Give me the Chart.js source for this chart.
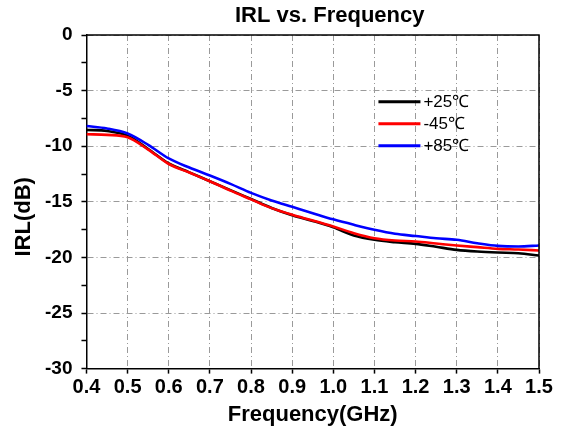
<!DOCTYPE html>
<html>
<head>
<meta charset="utf-8">
<script src="https://cdn.jsdelivr.net/npm/chart.js@4/dist/chart.umd.min.js"></script>
<style>
  html, body { margin: 0; padding: 0; background: #fff; }
  #wrap { width: 561px; height: 438px; }
</style>
</head>
<body>
<div id="wrap"><canvas id="irl"></canvas></div>
<script>
// frequency points (GHz)
var freq = [0.40, 0.45, 0.50, 0.55, 0.60, 0.65, 0.70, 0.75, 0.80, 0.85, 0.90, 0.95,
            1.00, 1.05, 1.10, 1.15, 1.20, 1.25, 1.30, 1.35, 1.40, 1.45, 1.50];

// IRL in dB
var irl25 = [-8.54, -8.63, -9.05, -10.25, -11.55, -12.35, -13.15, -13.95, -14.75, -15.55, -16.20, -16.72,
             -17.30, -18.03, -18.42, -18.63, -18.78, -19.05, -19.32, -19.47, -19.56, -19.62, -19.83];
var irlM45 = [-8.93, -8.98, -9.20, -10.30, -11.60, -12.37, -13.15, -13.99, -14.78, -15.57, -16.17, -16.68,
              -17.22, -17.82, -18.27, -18.48, -18.57, -18.75, -18.93, -19.08, -19.23, -19.29, -19.38];
var irl85 = [-8.18, -8.40, -8.86, -9.88, -11.10, -11.92, -12.64, -13.39, -14.20, -14.88, -15.45, -16.02,
             -16.58, -17.07, -17.52, -17.88, -18.08, -18.28, -18.42, -18.72, -18.96, -19.02, -18.93];

var seriesNames = ["+25\u2103", "-45\u2103", "+85\u2103"];
var seriesColors = ["#000000", "#ff0000", "#0000ff"];

var xTicks = { min: 0.4, max: 1.5, step: 0.1 };
var yTicks = { min: -30, max: 0, step: 2.5, labelEvery: 5 };

var chartTitle = "IRL vs. Frequency";
var xTitle = "Frequency(GHz)";
var yTitle = "IRL(dB)";

var FONT = "'Liberation Sans', Arial, sans-serif";
var gridColor = "#9a9a9a";

function toPoints(ys) {
  return freq.map(function(f, i) { return { x: f, y: ys[i] }; });
}

function isMajor(v) { return Math.abs(v % yTicks.labelEvery) < 1e-6; }

// frame, titles and the legend inside the plot
var decorations = {
  id: "decorations",
  afterDraw: function(chart) {
    var ctx = chart.ctx, a = chart.chartArea;
    ctx.save();
    ctx.strokeStyle = "#000";
    ctx.lineWidth = 1.5;
    ctx.beginPath();
    ctx.moveTo(a.left, a.top);
    ctx.lineTo(a.right, a.top);
    ctx.lineTo(a.right, a.bottom);
    ctx.stroke();

    ctx.fillStyle = "#000";
    ctx.textAlign = "center";
    ctx.textBaseline = "middle";
    ctx.font = "bold 22px " + FONT;
    ctx.fillText(chartTitle, (a.left + a.right) / 2 + 17, 16);

    ctx.save();
    ctx.translate(24, (a.top + a.bottom) / 2 + 15);
    ctx.rotate(-Math.PI / 2);
    ctx.fillText(yTitle, 0, 0);
    ctx.restore();

    // legend
    var lx = chart.scales.x.getPixelForValue(1.1) + 4;
    var ly = chart.scales.y.getPixelForValue(-6);
    ctx.font = "17px " + FONT;
    ctx.textAlign = "left";
    chart.data.datasets.forEach(function(ds, i) {
      var y = ly + i * 22;
      ctx.strokeStyle = ds.borderColor;
      ctx.lineWidth = 3;
      ctx.beginPath();
      ctx.moveTo(lx, y);
      ctx.lineTo(lx + 42, y);
      ctx.stroke();
      ctx.fillStyle = "#000";
      ctx.fillText(ds.label, lx + 45, y + 1);
    });
    ctx.restore();
  }
};

var datasets = [irl25, irlM45, irl85].map(function(ys, i) {
  return {
    label: seriesNames[i],
    data: toPoints(ys),
    borderColor: seriesColors[i],
    backgroundColor: seriesColors[i],
    borderWidth: 2.6,
    pointRadius: 0,
    cubicInterpolationMode: "monotone",
    order: 3 - i
  };
});

var ctx = document.getElementById("irl").getContext("2d");
var chart = new Chart(ctx, {
  type: "line",
  data: { datasets: datasets },
  options: {
    responsive: true,
    maintainAspectRatio: false,
    animation: false,
    layout: { padding: { left: 36, right: 22, top: 35, bottom: 10 } },
    plugins: {
      legend: { display: false },
      tooltip: { enabled: false },
      title: { display: false }
    },
    scales: {
      x: {
        type: "linear",
        min: xTicks.min,
        max: xTicks.max,
        ticks: {
          stepSize: xTicks.step,
          color: "#000",
          padding: 4,
          maxRotation: 0,
          autoSkip: false,
          font: { family: FONT, size: 20, weight: "bold", lineHeight: 1.0 },
          callback: function(v) { return Number(v).toFixed(1); }
        },
        grid: {
          color: gridColor,
          lineWidth: 1,
          tickColor: "#000",
          tickLength: 5,
          tickWidth: 1.5
        },
        border: { display: true, color: "#000", width: 1.5, dash: [6, 3, 1, 3] },
        title: {
          display: true,
          text: xTitle,
          color: "#000",
          padding: { top: 0, bottom: 0 },
          font: { family: FONT, size: 22, weight: "bold", lineHeight: 1.2 }
        }
      },
      y: {
        min: yTicks.min,
        max: yTicks.max,
        ticks: {
          stepSize: yTicks.step,
          color: "#000",
          padding: 9,
          autoSkip: false,
          font: { family: FONT, size: 19, weight: "bold" },
          callback: function(v) { return isMajor(v) ? String(v) : ""; }
        },
        grid: {
          color: function(c) {
            var v = c.tick ? c.tick.value : 0;
            return isMajor(v) ? gridColor : "rgba(0,0,0,0)";
          },
          lineWidth: 1,
          tickColor: "#000",
          tickLength: 5,
          tickWidth: 1.5
        },
        border: { display: true, color: "#000", width: 1.5, dash: [6, 3, 1, 3] },
        title: { display: false }
      }
    }
  },
  plugins: [decorations]
});
</script>
</body>
</html>
